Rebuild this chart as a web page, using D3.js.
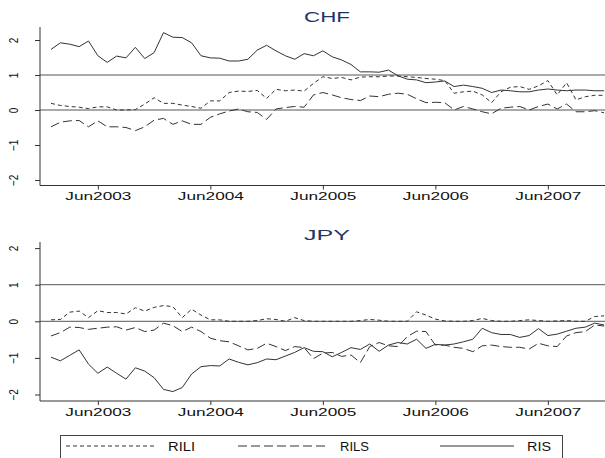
<!DOCTYPE html>
<html><head><meta charset="utf-8">
<script src="https://cdn.jsdelivr.net/npm/d3@7"></script>
<style>body{margin:0;background:#fff}svg{display:block}text{font-family:"Liberation Sans",Arial,sans-serif}</style>
</head><body>
<script>
// ---- data ----
const months = d3.timeMonth.range(new Date(2003, 0, 1), new Date(2008, 0, 1)); // Jan2003..Dec2007
const xTickLabels = ["Jun2003", "Jun2004", "Jun2005", "Jun2006", "Jun2007"];
const yTicks = [-2, -1, 0, 1, 2];
const refLines = [0, 1];
const seriesNames = ["RILI", "RILS", "RIS"];
const panelTitles = ["CHF", "JPY"];

const chfRILI = [0.19,0.13,0.10,0.08,0.04,0.09,0.09,0.00,0.00,0.01,0.17,0.35,0.19,0.19,0.14,0.10,0.05,0.26,0.26,0.50,
  0.54,0.53,0.56,0.33,0.59,0.55,0.57,0.54,0.76,0.95,0.90,0.93,0.86,0.94,0.95,0.95,0.97,0.97,0.95,0.93,
  0.90,0.88,0.84,0.48,0.52,0.54,0.43,0.21,0.52,0.65,0.67,0.59,0.69,0.84,0.43,0.78,0.29,0.38,0.42,0.42];
const chfRILS = [-0.48,-0.35,-0.31,-0.30,-0.48,-0.31,-0.48,-0.48,-0.50,-0.59,-0.48,-0.29,-0.24,-0.41,-0.31,-0.41,-0.41,-0.21,-0.11,-0.03,
  0.03,-0.05,-0.07,-0.27,0.03,0.07,0.10,0.08,0.43,0.50,0.43,0.35,0.30,0.27,0.40,0.38,0.45,0.48,0.45,0.32,
  0.21,0.22,0.21,0.00,0.10,0.03,-0.05,-0.11,0.05,0.08,0.10,0.00,0.10,0.17,0.03,0.17,-0.05,-0.05,-0.02,-0.08];
const chfRIS = [1.73,1.92,1.88,1.81,1.97,1.55,1.36,1.54,1.49,1.79,1.47,1.64,2.21,2.08,2.07,1.92,1.55,1.49,1.48,1.40,
  1.40,1.45,1.71,1.85,1.69,1.55,1.45,1.61,1.55,1.69,1.52,1.43,1.30,1.09,1.09,1.08,1.14,0.98,0.88,0.86,
  0.78,0.80,0.83,0.67,0.71,0.67,0.62,0.50,0.57,0.55,0.52,0.52,0.57,0.60,0.57,0.55,0.57,0.57,0.55,0.55];

const jpyRILI = [0.04,0.05,0.25,0.28,0.10,0.29,0.24,0.24,0.20,0.37,0.28,0.38,0.43,0.40,0.10,0.33,0.17,0.04,0.04,0.00,
  0.00,0.00,0.02,0.07,0.05,0.00,0.10,0.02,0.00,0.00,0.00,0.00,0.00,0.02,0.05,0.03,0.00,0.00,0.00,0.26,
  0.17,0.06,0.01,0.00,0.00,0.02,0.08,0.02,0.00,0.00,0.02,0.04,0.02,0.00,0.01,0.02,0.00,0.00,0.13,0.15];
const jpyRILS = [-0.40,-0.31,-0.16,-0.17,-0.22,-0.19,-0.16,-0.15,-0.24,-0.17,-0.28,-0.24,-0.05,-0.12,-0.28,-0.16,-0.28,-0.46,-0.53,-0.56,
  -0.67,-0.78,-0.74,-0.60,-0.69,-0.80,-0.69,-0.72,-1.02,-0.87,-0.85,-0.96,-0.92,-1.13,-0.69,-0.58,-0.67,-0.69,-0.42,-0.27,
  -0.28,-0.65,-0.65,-0.71,-0.74,-0.83,-0.67,-0.65,-0.69,-0.71,-0.71,-0.76,-0.60,-0.67,-0.69,-0.40,-0.31,-0.28,-0.10,-0.13];
const jpyRIS = [-0.98,-1.08,-0.93,-0.78,-1.17,-1.42,-1.25,-1.42,-1.58,-1.27,-1.36,-1.54,-1.86,-1.92,-1.81,-1.44,-1.24,-1.21,-1.22,-1.03,
  -1.12,-1.19,-1.13,-1.03,-1.05,-0.95,-0.85,-0.72,-0.82,-0.83,-0.97,-0.85,-0.72,-0.77,-0.62,-0.82,-0.65,-0.58,-0.62,-0.49,
  -0.74,-0.63,-0.65,-0.62,-0.56,-0.49,-0.19,-0.31,-0.36,-0.36,-0.44,-0.39,-0.20,-0.39,-0.35,-0.27,-0.19,-0.16,-0.05,-0.10];

const panelData = [
  {RILI: chfRILI, RILS: chfRILS, RIS: chfRIS},
  {RILI: jpyRILI, RILS: jpyRILS, RIS: jpyRIS}
];

// ---- layout / style ----
const W = 605, H = 458;
const lineColor = "#333";
const dashes = {RILI: "4,3", RILS: "9,4", RIS: null};
const layouts = [
  {yRange: [180, 40], axTop: 27, axBottom: 185.5, titleY: 22},
  {yRange: [394.5, 248.1], axTop: 242, axBottom: 401, titleY: 240}
];
const axisX = 40;

const svg = d3.select("body").append("svg").attr("width", W).attr("height", H);

const monthIndex = d => (d.getFullYear() - 2003) * 12 + d.getMonth();
const parseTick = d3.timeParse("%b%Y");
const x = d3.scaleLinear().domain([0, months.length - 1]).range([51, 604.1]);
const tickIdx = xTickLabels.map(s => monthIndex(parseTick(s)));

panelTitles.forEach((title, p) => {
  const L = layouts[p];
  const y = d3.scaleLinear().domain([-2, 2]).range(L.yRange);
  const g = svg.append("g");

  // title
  g.append("text").attr("x", 327).attr("y", L.titleY).attr("text-anchor", "middle")
    .attr("font-size", 15).attr("fill", "#1f3566")
    .attr("textLength", 46).attr("lengthAdjust", "spacingAndGlyphs").text(title);

  // reference lines
  g.selectAll(".ref").data(refLines).join("line")
    .attr("x1", axisX).attr("x2", W).attr("y1", d => y(d)).attr("y2", d => y(d))
    .attr("stroke", "#555").attr("stroke-width", 1);

  // series
  const line = d3.line().x((d, i) => x(monthIndex(months[i]))).y(d => y(d));
  seriesNames.forEach(name => {
    g.append("path").datum(panelData[p][name])
      .attr("d", line).attr("fill", "none").attr("stroke", lineColor)
      .attr("stroke-width", 1).attr("stroke-dasharray", dashes[name]);
  });

  // y axis
  const ya = g.append("g").attr("transform", `translate(${axisX},0)`)
    .call(d3.axisLeft(y).tickValues(yTicks).tickSize(5).tickFormat(d3.format("d")));
  ya.select(".domain").remove();
  ya.selectAll(".tick line").attr("stroke", "#333");
  ya.selectAll(".tick text").attr("x", null).attr("dy", null)
    .attr("text-anchor", "middle").attr("font-size", 10).attr("fill", "#111")
    .attr("transform", "translate(-22,0) scale(1.25,1) rotate(-90)");
  ya.append("line").attr("x1", 0).attr("x2", 0).attr("y1", L.axTop).attr("y2", L.axBottom)
    .attr("stroke", "#333");

  // x axis
  const xa = g.append("g").attr("transform", `translate(0,${L.axBottom})`)
    .call(d3.axisBottom(x).tickValues(tickIdx).tickSize(4).tickFormat((d, i) => xTickLabels[i]));
  xa.select(".domain").remove();
  xa.selectAll(".tick line").attr("stroke", "#333");
  xa.selectAll(".tick text").attr("font-size", 11).attr("fill", "#111")
    .attr("textLength", 66).attr("lengthAdjust", "spacingAndGlyphs");
  xa.append("line").attr("x1", axisX).attr("x2", W).attr("y1", 0).attr("y2", 0).attr("stroke", "#333");
});

// legend
const lg = svg.append("g");
lg.append("rect").attr("x", 60.5).attr("y", 435.5).attr("width", 502).attr("height", 40)
  .attr("fill", "none").attr("stroke", "#444");
const legendKeys = [[66, 154, 168, 27], [238, 328, 340, 29], [440, 514, 527, 24]];
seriesNames.forEach((name, i) => {
  const k = legendKeys[i];
  lg.append("line").attr("x1", k[0]).attr("x2", k[1]).attr("y1", 446).attr("y2", 446)
    .attr("stroke", lineColor).attr("stroke-width", 1).attr("stroke-dasharray", dashes[name]);
  lg.append("text").attr("x", k[2]).attr("y", 450.5).attr("font-size", 12.5).attr("fill", "#111")
    .attr("textLength", k[3]).attr("lengthAdjust", "spacingAndGlyphs").text(name);
});
</script>
</body></html>
